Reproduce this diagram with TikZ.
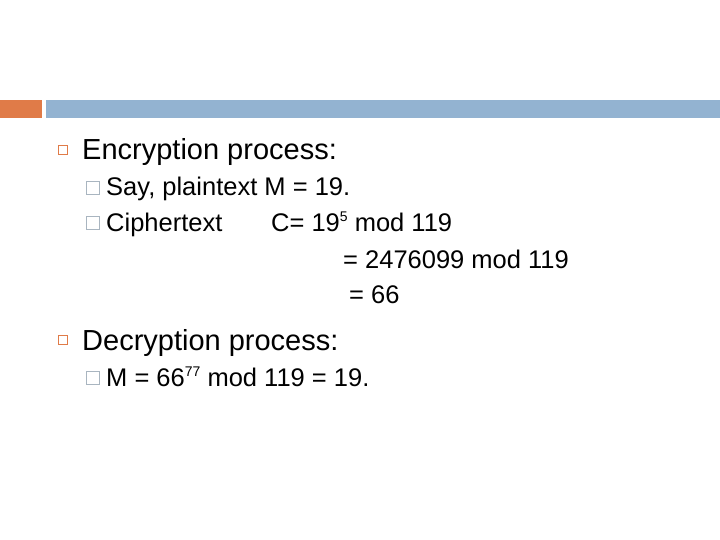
\documentclass[tikz,border=0pt]{standalone}
\usepackage{fontspec}
\setmainfont{Liberation Sans}
\definecolor{orbar}{HTML}{E07B48}
\definecolor{blbar}{HTML}{93B3D1}
\definecolor{bgray}{HTML}{A9B5C0}
\newcommand{\supx}[1]{\raisebox{0.36em}{\fontsize{14}{14}\selectfont #1}}
\begin{document}
\begin{tikzpicture}[x=1pt,y=-1pt,
  lone/.style={anchor=base west,inner sep=0pt,font=\fontsize{29}{32}\selectfont},
  ltwo/.style={anchor=base west,inner sep=0pt,font=\fontsize{25.5}{28}\selectfont},
  obul/.style={draw=orbar,line width=1.3pt,minimum size=9pt,inner sep=0pt},
  gbul/.style={draw=bgray,line width=0.8pt,minimum size=13pt,inner sep=0pt}]
\useasboundingbox (0,0) rectangle (720,540);
\fill[orbar] (0,100) rectangle (42,118);
\fill[blbar] (46,100) rectangle (720,118);
\node[obul] (b1) at (63,150) {};
\node[lone] (t1) at (82,160) {Encryption process:};
\node[gbul] (b2) at (93,188) {};
\node[ltwo] (t2) at (106,196) {Say, plaintext M = 19.};
\node[gbul] (b3) at (93,223) {};
\node[ltwo] (t3) at (106,231) {Ciphertext};
\node[ltwo] (t4) at (271,231) {C= 19\supx{5} mod 119};
\node[ltwo] (t5) at (343,268) {= 2476099 mod 119};
\node[ltwo] (t6) at (349,303) {= 66};
\node[obul] (b4) at (63,340) {};
\node[lone] (t7) at (82,350) {Decryption process:};
\node[gbul] (b5) at (93,378) {};
\node[ltwo] (t8) at (106,386) {M = 66\supx{77} mod 119 = 19.};
\end{tikzpicture}
\end{document}
